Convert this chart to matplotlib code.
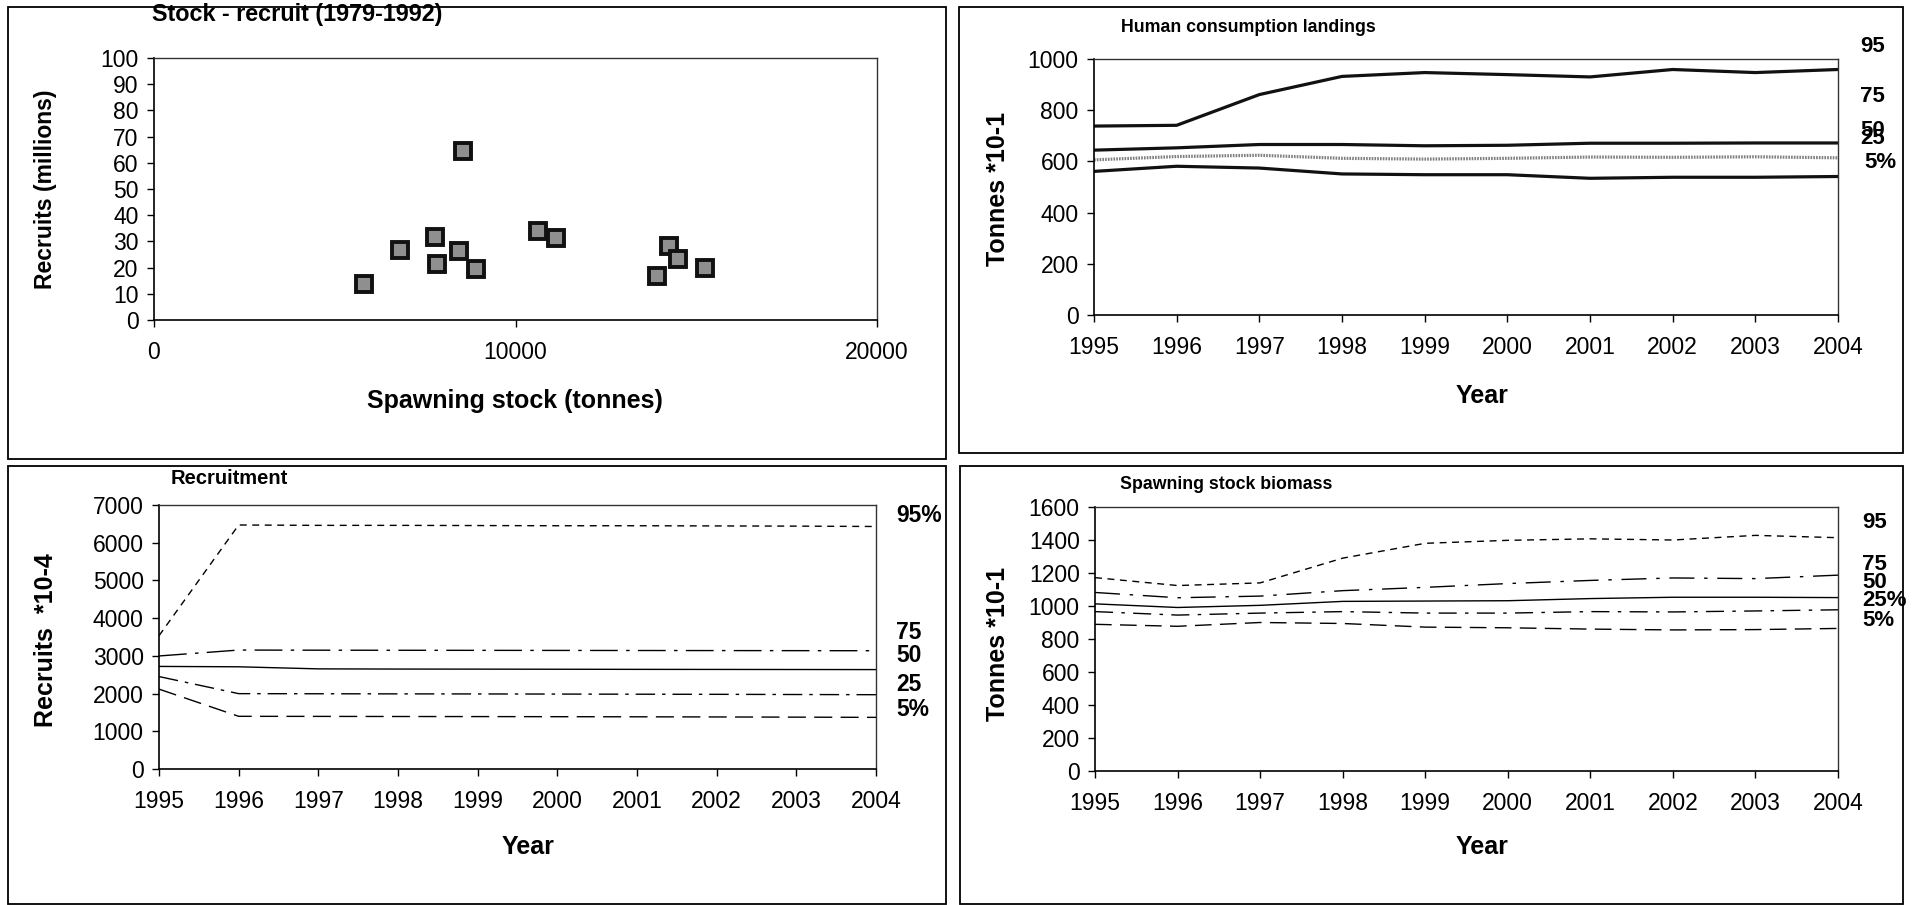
import matplotlib
matplotlib.use("Agg")
import matplotlib.pyplot as plt
from matplotlib.patches import Rectangle

plt.rcParams["lines.scale_dashes"] = False

# ---- data ---------------------------------------------------------------
years = [1995, 1996, 1997, 1998, 1999, 2000, 2001, 2002, 2003, 2004]

# Stock - recruit pairs 1979-1992
ssb_tonnes = [5818, 6792, 7784, 7840, 8437, 8547, 8915, 10633, 11120,
              13915, 14237, 14508, 15254]
recruits_millions = [13.8, 26.9, 31.7, 21.3, 26.5, 64.5, 19.6, 34.0, 31.2,
                     16.9, 28.2, 23.1, 19.7]

# Human consumption landings (tonnes * 10-1)
hc_upper = [738, 741, 861, 932, 947, 939, 930, 959, 947, 959]
hc_mid = [644, 653, 666, 666, 661, 663, 671, 671, 672, 672]
hc_grey = [606, 619, 624, 612, 609, 612, 617, 616, 618, 614]
hc_lower = [561, 581, 574, 551, 548, 548, 534, 538, 538, 541]

# Recruitment percentiles (recruits * 10-4)
rec_p95 = [3534, 6470, 6460, 6460, 6455, 6450, 6450, 6445, 6440, 6430]
rec_p75 = [2997, 3154, 3150, 3148, 3146, 3144, 3142, 3140, 3138, 3136]
rec_p50 = [2720, 2710, 2655, 2650, 2648, 2645, 2642, 2640, 2638, 2636]
rec_p25 = [2451, 1998, 1995, 1992, 1990, 1987, 1983, 1980, 1975, 1970]
rec_p05 = [2118, 1397, 1395, 1392, 1390, 1387, 1384, 1380, 1375, 1369]

# Spawning stock biomass percentiles (tonnes * 10-1)
ssb_p95 = [1172, 1124, 1140, 1290, 1380, 1398, 1407, 1400, 1428, 1414]
ssb_p75 = [1082, 1050, 1060, 1093, 1113, 1136, 1155, 1170, 1166, 1187]
ssb_p50 = [1013, 991, 1004, 1028, 1030, 1032, 1045, 1053, 1053, 1051]
ssb_p25 = [966, 945, 957, 966, 957, 957, 966, 964, 970, 977]
ssb_p05 = [889, 877, 900, 894, 872, 868, 860, 855, 857, 864]

# ---- layout helpers ------------------------------------------------------
W, H = 1913, 905
fig = plt.figure(figsize=(W / 100, H / 100), dpi=100)
fig.patch.set_facecolor("white")

TICK_FONT = ["Liberation Sans", "DejaVu Sans"]
BOLD_FONT = ["Liberation Sans", "DejaVu Sans"]
TICK_SIZE = 16.5
AXIS_TITLE = 18
PANEL_TITLE = 12.8


def fx(x):
    return x / W


def fy(y):
    return 1 - y / H


def make_axes(l, r, t, b):
    ax = fig.add_axes([fx(l), fy(b), (r - l) / W, (b - t) / H])
    for side in ("top", "right"):
        ax.spines[side].set_color("#333333")
        ax.spines[side].set_linewidth(1.0)
    for side in ("left", "bottom"):
        ax.spines[side].set_color("black")
        ax.spines[side].set_linewidth(1.2)
    ax.tick_params(direction="out", length=5, width=1.0,
                   labelsize=TICK_SIZE, colors="black")
    ax.tick_params(axis="x", pad=10)
    ax.tick_params(axis="y", pad=6)
    return ax


def frame(l, r, t, b):
    fig.add_artist(Rectangle((fx(l), fy(b)), (r - l) / W, (b - t) / H,
                             transform=fig.transFigure, fill=False,
                             edgecolor="black", linewidth=1.3))


def text(x, y, s, size, ha="left", weight="bold", family=BOLD_FONT,
         rotation=0):
    fig.text(fx(x), fy(y), s, fontsize=size, ha=ha, va="center",
             fontweight=weight, family=family, rotation=rotation)


def year_axis(ax, ymax, ystep):
    ax.set_xlim(years[0], years[-1])
    ax.set_xticks(years)
    ax.set_xticklabels([str(y) for y in years], family=TICK_FONT)
    ax.set_ylim(0, ymax)
    ax.set_yticks(range(0, ymax + 1, ystep))
    ax.set_yticklabels([str(v) for v in range(0, ymax + 1, ystep)],
                       family=TICK_FONT)


# ---- panel frames --------------------------------------------------------
frame(8, 946, 7, 459)
frame(959, 1903, 7, 453)
frame(8, 946, 466, 904)
frame(960, 1903, 466, 904)

# ---- stock - recruit scatter --------------------------------------------
ax1 = make_axes(154, 877, 58, 320)
ax1.plot(ssb_tonnes, recruits_millions, linestyle="none", marker="s",
         markersize=11.5, markerfacecolor="#8f8f8f",
         markeredgecolor="#111111", markeredgewidth=2.8)
ax1.set_xlim(0, 20000)
ax1.set_ylim(0, 100)
ax1.set_xticks([0, 10000, 20000])
ax1.set_xticklabels(["0", "10000", "20000"], family=TICK_FONT)
ax1.set_yticks(range(0, 101, 10))
ax1.set_yticklabels([str(v) for v in range(0, 101, 10)], family=TICK_FONT)
text(152, 15, "Stock - recruit (1979-1992)", 16.8)
text(46, 189, "Recruits (millions)", 16.5, ha="center", rotation=90)
text(515, 401, "Spawning stock (tonnes)", AXIS_TITLE, ha="center")

# ---- human consumption landings -----------------------------------------
ax2 = make_axes(1094, 1838, 59, 315)
ax2.plot(years, hc_upper, color="#111111", lw=2.3)
ax2.plot(years, hc_mid, color="#111111", lw=2.3)
ax2.plot(years, hc_grey, color="#808080", lw=2.3, dashes=(1.2, 0.8))
ax2.plot(years, hc_lower, color="#111111", lw=2.3)
year_axis(ax2, 1000, 200)
text(1121, 27, "Human consumption landings", PANEL_TITLE)
text(998, 189, "Tonnes *10-1", AXIS_TITLE, ha="center", rotation=90)
text(1482, 396, "Year", AXIS_TITLE, ha="center")
for lab, y, x in [("95", 47, 1860), ("75", 96, 1860), ("50", 130, 1860),
                  ("25", 139, 1860), ("5%", 162, 1864)]:
    text(x, y, lab, 16)

# ---- recruitment ---------------------------------------------------------
ax3 = make_axes(159, 876, 505, 769)
ax3.plot(years, rec_p95, color="black", lw=1.0, dashes=(5, 4))
ax3.plot(years, rec_p75, color="black", lw=1.0, dashes=(20, 6, 2.5, 6))
ax3.plot(years, rec_p50, color="black", lw=1.0)
ax3.plot(years, rec_p25, color="black", lw=1.0, dashes=(14, 5, 2.5, 5))
ax3.plot(years, rec_p05, color="black", lw=1.0, dashes=(13, 6))
year_axis(ax3, 7000, 1000)
text(171, 479, "Recruitment", 14.5)
text(46, 640, "Recruits  *10-4", AXIS_TITLE, ha="center", rotation=90)
text(528, 847, "Year", AXIS_TITLE, ha="center")
for lab, y in [("95%", 515), ("75", 632), ("50", 655), ("25", 684),
               ("5%", 709)]:
    text(896, y, lab, 16.5)

# ---- spawning stock biomass ---------------------------------------------
ax4 = make_axes(1095, 1838, 507, 771)
ax4.plot(years, ssb_p95, color="black", lw=1.0, dashes=(5, 4))
ax4.plot(years, ssb_p75, color="black", lw=1.0, dashes=(18, 7, 2.5, 7))
ax4.plot(years, ssb_p50, color="black", lw=1.0)
ax4.plot(years, ssb_p25, color="black", lw=1.0, dashes=(13, 6, 2.5, 6))
ax4.plot(years, ssb_p05, color="black", lw=1.0, dashes=(12, 6))
year_axis(ax4, 1600, 200)
text(1120, 484, "Spawning stock biomass", PANEL_TITLE)
text(998, 644, "Tonnes *10-1", AXIS_TITLE, ha="center", rotation=90)
text(1482, 847, "Year", AXIS_TITLE, ha="center")
for lab, y in [("95", 522), ("75", 564), ("50", 582), ("25%", 601),
               ("5%", 620)]:
    text(1862, y, lab, 16)

fig.savefig("out.png", dpi=100, facecolor="white")
